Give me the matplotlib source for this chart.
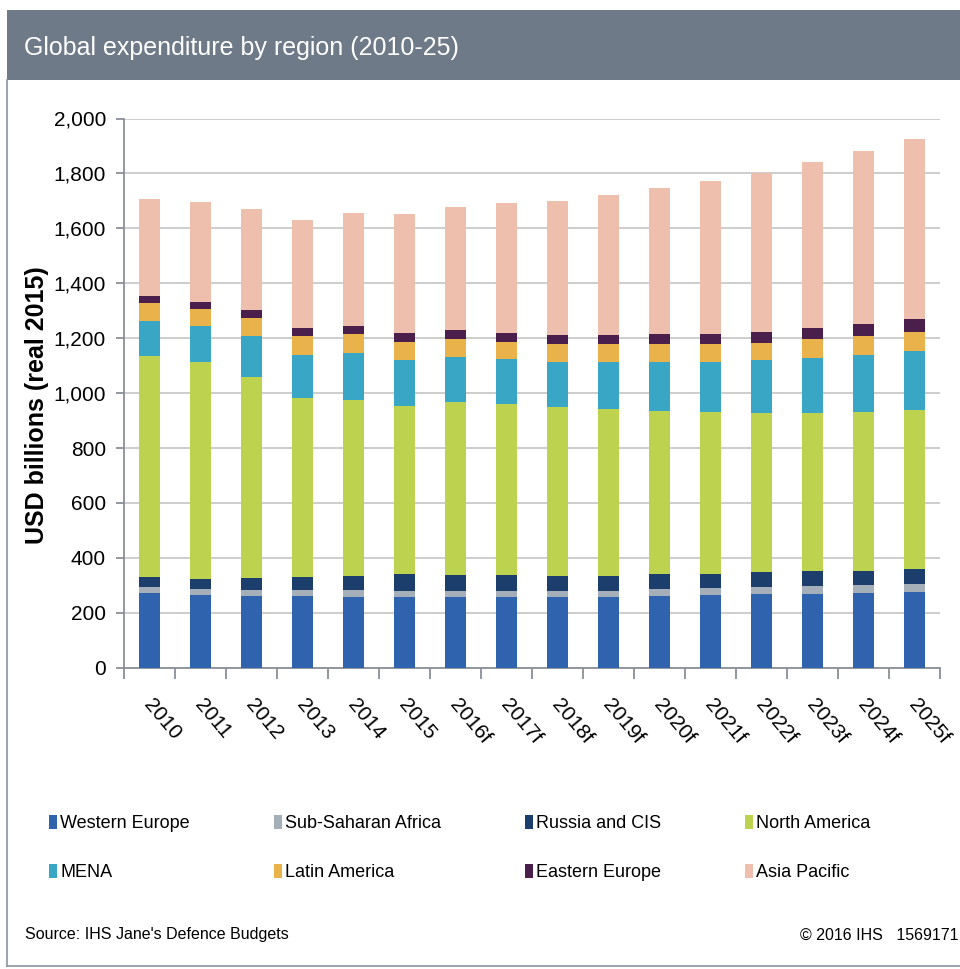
#!/usr/bin/env python3
import numpy as np
import matplotlib
matplotlib.use('Agg')
import matplotlib.pyplot as plt
from matplotlib.patches import Rectangle
from matplotlib.transforms import ScaledTranslation

# data (USD billions, real 2015)
years = ['2010', '2011', '2012', '2013', '2014', '2015', '2016f', '2017f',
         '2018f', '2019f', '2020f', '2021f', '2022f', '2023f', '2024f', '2025f']
western_europe = [271, 265, 262, 262, 259, 259, 259, 259, 259, 259, 261, 265, 268, 270, 273, 275]
sub_saharan = [22, 20, 22, 22, 24, 21, 21, 21, 21, 21, 24, 26, 27, 29, 28, 29]
russia_cis = [36, 38, 44, 47, 50, 60, 58, 58, 55, 55, 55, 52, 52, 52, 52, 56]
north_america = [807, 791, 732, 650, 643, 613, 631, 622, 616, 607, 595, 587, 580, 576, 578, 578]
mena = [127, 132, 148, 158, 170, 167, 164, 163, 164, 173, 177, 184, 192, 202, 208, 214]
latin_america = [64, 61, 67, 70, 69, 67, 64, 64, 64, 63, 66, 65, 65, 68, 70, 71]
eastern_europe = [27, 26, 28, 28, 29, 31, 31, 31, 33, 34, 36, 37, 39, 41, 43, 46]
asia_pacific = [352, 362, 367, 393, 413, 434, 451, 473, 489, 509, 532, 558, 578, 604, 629, 656]

series_names = ['Western Europe', 'Sub-Saharan Africa', 'Russia and CIS', 'North America',
                'MENA', 'Latin America', 'Eastern Europe', 'Asia Pacific']
series = [western_europe, sub_saharan, russia_cis, north_america,
          mena, latin_america, eastern_europe, asia_pacific]
colors = ['#2f63ad', '#a4afba', '#1b3e6c', '#bdd24f',
          '#3aa6c6', '#eab24a', '#4b1f4c', '#efbfad']

plt.rcParams['font.family'] = ['Liberation Sans', 'DejaVu Sans']

fig = plt.figure(figsize=(9.6, 9.69), dpi=100)
W, H = 960, 969

# title bar and frame
fig.patches.append(Rectangle((7 / W, 1 - 80 / H), 1, 70 / H, transform=fig.transFigure,
                             facecolor='#6f7a88', edgecolor='none', zorder=0))
fig.add_artist(plt.Line2D([7 / W, 7 / W], [1 - 80 / H, 1 - 966 / H], color='#8a94a3', lw=1.2))
fig.add_artist(plt.Line2D([7 / W, 1], [1 - 966 / H, 1 - 966 / H], color='#8a94a3', lw=1.2))
fig.text(24 / W, 1 - 48 / H, 'Global expenditure by region (2010-25)', color='white',
         fontsize=18, va='center', ha='left')

ax = fig.add_axes([124 / W, 1 - 667.7 / H, (940 - 124) / W, (667.7 - 118.5) / H])
x = np.arange(len(years))
bottom = np.zeros(len(years))
handles = []
for name, vals, c in zip(series_names, series, colors):
    b = ax.bar(x, vals, width=0.4, bottom=bottom, color=c, label=name, zorder=3)
    handles.append(b)
    bottom += np.array(vals)

ax.set_ylim(0, 2000)
ax.set_xlim(-0.5, len(years) - 0.5)
ax.set_yticks(np.arange(0, 2001, 200))
ax.set_yticklabels([f'{v:,}' for v in range(0, 2001, 200)], fontsize=15)
ax.yaxis.grid(True, color='#c9c9c9', lw=1.3, zorder=0)
ax.set_axisbelow(True)
for s in ['top', 'right']:
    ax.spines[s].set_visible(False)
for s in ['left', 'bottom']:
    ax.spines[s].set_color('#8a9099')
    ax.spines[s].set_linewidth(1.3)
ax.tick_params(axis='y', length=6, color='#8a9099', width=1.3, pad=7)

ax.set_xticks(x)
ax.set_xticks(np.arange(-0.5, len(years), 1), minor=True)
ax.tick_params(axis='x', which='major', length=0, pad=24)
ax.tick_params(axis='x', which='minor', length=8, color='#8a9099', width=1.3)
ax.set_xticklabels(years, fontsize=15, rotation=-50, ha='left', va='center',
                   rotation_mode='anchor')
for lab in ax.get_xticklabels():
    lab.set_transform(lab.get_transform() + ScaledTranslation(-0.02, 0, fig.dpi_scale_trans))

ax.set_ylabel('USD billions (real 2015)', fontsize=18, fontweight='bold')
ax.yaxis.set_label_coords(-0.092, 0.478)

# legend filled row by row
order = [0, 4, 1, 5, 2, 6, 3, 7]
fig.legend([handles[i] for i in order], [series_names[i] for i in order],
           loc='upper left', bbox_to_anchor=(33 / W, 1 - 799 / H), ncol=4, frameon=False,
           fontsize=13, handlelength=0.45, handleheight=0.8, handletextpad=0.15,
           columnspacing=4.66, labelspacing=1.75)

fig.text(25 / W, 1 - 935 / H, "Source: IHS Jane's Defence Budgets", fontsize=11.5,
         va='center', ha='left')
fig.text(958 / W, 1 - 935 / H, '\u00a9 2016 IHS   1569171', fontsize=11.5,
         va='center', ha='right')

fig.savefig('out.png', dpi=100)
